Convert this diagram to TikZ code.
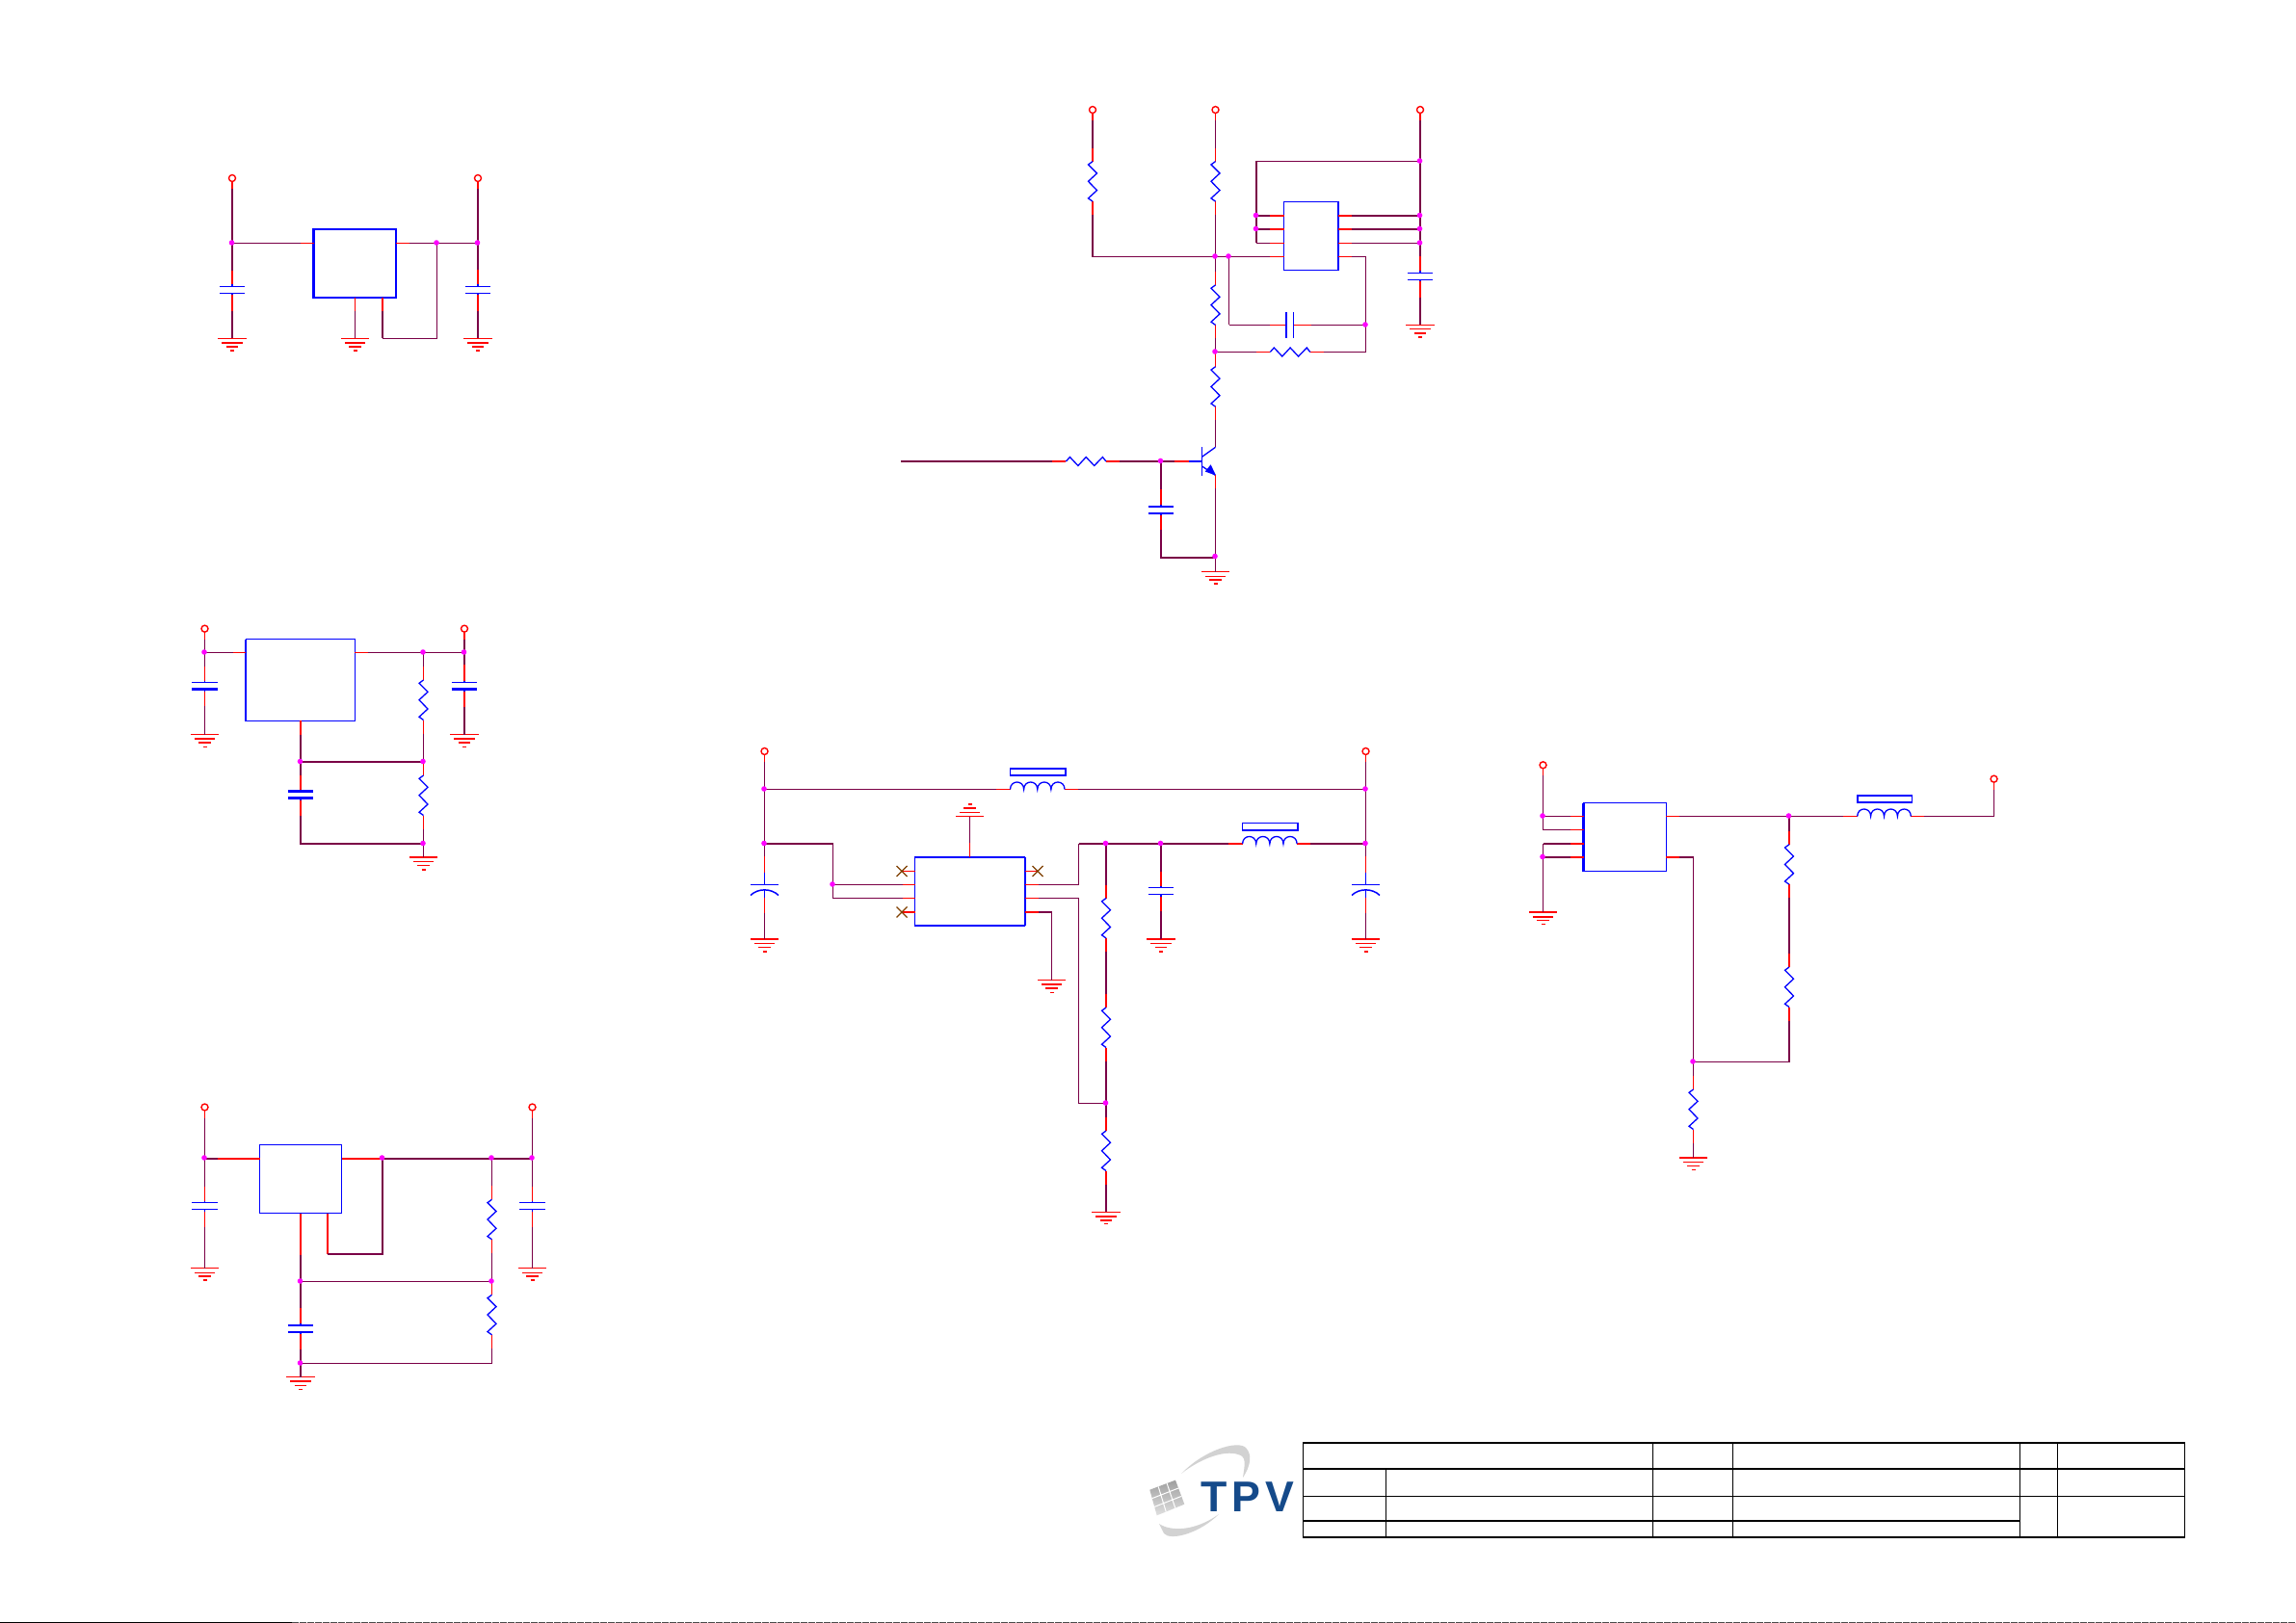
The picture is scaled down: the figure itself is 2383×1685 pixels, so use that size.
\documentclass[tikz,border=0pt]{standalone}
\usepackage{fontspec}
\setmainfont{Liberation Sans}
\definecolor{wirec}{HTML}{7A0046}
\definecolor{pinc}{HTML}{FF0000}
\definecolor{compc}{HTML}{0000FF}
\definecolor{jc}{HTML}{FF00FF}
\definecolor{ncc}{HTML}{804000}
\definecolor{logoc}{HTML}{154A8A}
\pgfdeclarelayer{jl}
\pgfsetlayers{main,jl}
\tikzset{
 thn/.style={line width=1pt},
 thk/.style={line width=2pt},
 wire/.style={wirec,line cap=butt,line join=miter},
 pinw/.style={pinc,line cap=butt},
 compw/.style={compc,line width=1.3pt,line join=miter},
 jn/.style={circle,fill=jc,draw=none,minimum size=5.6pt,inner sep=0pt},
 tmn/.style={circle,draw=pinc,line width=1.4pt,minimum size=7pt,inner sep=0pt,fill=white},
 icb/.style={draw=compc,rectangle,inner sep=0pt,outer sep=0pt},
 tb/.style={black,line cap=rect},
}
\newcommand\Wjunc[3]{\coordinate (#1) at (#2,#3);
 \begin{pgfonlayer}{jl}\node[jn,xshift=-.5pt,yshift=.5pt] (#1-dot) at (#1) {};\end{pgfonlayer}}
\newcommand\Wterm[4][thn]{\node[tmn] (#2) at (#3,#4) {};
 \draw[pinw,#1] (#3,#4+3.6) -- (#3,#4+11);
 \coordinate (#2-b) at (#3,#4+11);}
\newcommand\Wpin[6]{\coordinate (#1) at (#2,#3); \draw[pinw,#6] (#2,#3) -- (#4,#5);}
\newcommand\Wres[4]{%
 \draw[pinw,#4] (#2,#3-14) -- (#2,#3);
 \draw[pinw,#4] (#2,#3+41.5) -- (#2,#3+55.5);
 \draw[compw] (#2,#3) -- ++(-4.5,3.3) -- ++(9,9) -- ++(-9,8.4) -- ++(9,9.3) -- ++(-9,8.3) -- ++(4.5,3.2);
 \coordinate (#1-a) at (#2,#3-14); \coordinate (#1-b) at (#2,#3+55.5);}
\newcommand\Whres[4]{%
 \draw[pinw,#4] (#2-14,#3) -- (#2,#3);
 \draw[pinw,#4] (#2+41.5,#3) -- (#2+55.5,#3);
 \draw[compw] (#2,#3) -- ++(4,-4.5) -- ++(8.5,9) -- ++(8.3,-9) -- ++(8.5,9) -- ++(8.7,-9) -- ++(3.5,4.5);
 \coordinate (#1-a) at (#2-14,#3); \coordinate (#1-b) at (#2+55.5,#3);}
\newcommand\Wcap[8]{%
 \draw[pinw,#6] (#2,#3) -- (#2,#4-2);
 \draw[pinw,#6] (#2,#4+9) -- (#2,#5);
 \draw[compc,line width=1.5pt] (#2,#4-2) -- (#2,#4);
 \draw[compc,line width=1.5pt] (#2,#4+7) -- (#2,#4+9);
 \draw[compc,line width=#7pt] (#2-13.3,#4) -- (#2+13.3,#4);
 \draw[compc,line width=#8pt] (#2-13.3,#4+7) -- (#2+13.3,#4+7);
 \coordinate (#1-a) at (#2,#3); \coordinate (#1-b) at (#2,#5);}
\newcommand\Wcapc[5]{%
 \draw[pinw,thn] (#2,#3) -- (#2,#4-13);
 \draw[compc,line width=1pt] (#2,#4-13) -- (#2,#4);
 \draw[compc,line width=1pt] (#2-14.5,#4) -- (#2+14.5,#4);
 \draw[compc,line width=1.5pt] (#2-14.5,#4+11) .. controls (#2-7,#4+3.5) and (#2+7,#4+3.5) .. (#2+14.5,#4+11);
 \draw[compc,line width=1pt] (#2,#4+5) -- (#2,#4+13);
 \draw[pinw,thn] (#2,#4+13) -- (#2,#5);
 \coordinate (#1-a) at (#2,#3); \coordinate (#1-b) at (#2,#5);}
\newcommand\Wgnd[8]{\coordinate (#1) at (#2,#3);
 \draw[pinc,line width=#5pt] (#2-14.7,#3) -- (#2+14.7,#3);
 \draw[pinc,line width=#6pt] (#2-10.7,#3+#4*4.5) -- (#2+10.7,#3+#4*4.5);
 \draw[pinc,line width=#7pt] (#2-6.3,#3+#4*8.5) -- (#2+6.3,#3+#4*8.5);
 \draw[pinc,line width=#8pt] (#2-2,#3+#4*12.5) -- (#2+2,#3+#4*12.5);}
\newcommand\Wind[5]{%
 \draw[pinw,#5] (#2-15,#3) -- (#2,#3);
 \draw[pinw,#5] (#2+#4,#3) -- (#2+#4+14,#3);
 \draw[compc,line width=1.3pt] (#2,#3)
   .. controls (#2,#3-10) and (#2+#4*0.25,#3-10) .. (#2+#4*0.25,#3)
   .. controls (#2+#4*0.25,#3-10) and (#2+#4*0.5,#3-10) .. (#2+#4*0.5,#3)
   .. controls (#2+#4*0.5,#3-10) and (#2+#4*0.75,#3-10) .. (#2+#4*0.75,#3)
   .. controls (#2+#4*0.75,#3-10) and (#2+#4,#3-10) .. (#2+#4,#3);
 \draw[compc,line width=1.6pt] (#2,#3-21.6) rectangle (#2+#4+1,#3-14.3);
 \coordinate (#1-a) at (#2-15,#3); \coordinate (#1-b) at (#2+#4+14,#3);}
\newcommand\Wic[6]{\node[icb,line width=#6pt,minimum width=#4pt-#2pt,minimum height=#5pt-#3pt,anchor=north west] (#1) at (#2,#3) {};}
\newcommand\Wnc[3]{\node[inner sep=0pt,minimum size=0pt] (#1) at (#2,#3) {};
 \draw[ncc,line width=1.2pt] (#2-5.5,#3-5.5) -- (#2+5.5,#3+5.5) (#2-5.5,#3+5.5) -- (#2+5.5,#3-5.5);}

\begin{document}
\begin{tikzpicture}[x=1pt,y=-1pt]
\useasboundingbox (0,0) rectangle (2383,1685);
\fill[white] (0,0) rectangle (2383,1685);

%%%%%%%%%% circuit 1
\Wterm[thk]{aT}{241}{185}
\Wterm[thk]{aU}{496}{185}
\Wjunc{aJ}{241}{252.5}
\Wjunc{aK}{453.5}{252.5}
\Wjunc{aL}{496}{252.5}
\Wic{aIC}{325.5}{238}{411}{309}{2.4}
\Wcap{aC}{241}{281}{297.5}{322.7}{thk}{1}{1}
\Wcap{aD}{496}{280}{297.5}{322.7}{thk}{1}{1}
\Wgnd{aG}{241}{351.5}{1}{1}{2}{2}{2}
\Wgnd{aH}{368.5}{351.5}{1}{1}{2}{2}{2}
\Wgnd{aI}{496}{351.5}{1}{1}{2}{2}{2}
\Wpin{aP}{312.3}{252.5}{325.7}{252.5}{thn}
\Wpin{aQ}{425}{252.5}{411}{252.5}{thn}
\Wpin{aR}{368.5}{322.7}{368.5}{309}{thn}
\Wpin{aS}{397}{322.7}{397}{309}{thk}
\coordinate (aM) at (397,351.5);
\coordinate (aN) at (453.5,351.5);
\draw[wire,thk] (aT-b) -- (aJ) -- (aC-a);
\draw[wire,thk] (aC-b) -- (aG);
\draw[wire,thk] (aU-b) -- (aL) -- (aD-a);
\draw[wire,thk] (aD-b) -- (aI);
\draw[wire,thn] (aJ) -- (aP);
\draw[wire,thn] (aQ) -- (aK) -- (aL);
\draw[wire,thn] (aR) -- (aH);
\draw[wire,thk] (aS) -- (aM);
\draw[wire,thn] (aM) -- (aN) -- (aK);

%%%%%%%%%% circuit 2 (transistor)
\Wterm[thk]{bT}{1134}{114}
\Wterm{bU}{1261.5}{114}
\Wterm[thk]{bV}{1474}{114}
\Wres{bR}{1134}{167.6}{thk}
\Wres{bS}{1261.5}{167.6}{thn}
\Wres{bX}{1261.5}{295.9}{thn}
\Wres{bY}{1261.5}{380.7}{thn}
\Wjunc{bJ}{1261.5}{266.5}
\Wjunc{bK}{1275.5}{266.5}
\Wjunc{bL}{1261.5}{365.5}
\Wjunc{bM}{1474}{167.5}
\Wjunc{bN}{1304}{224}
\Wjunc{bO}{1304}{238}
\Wjunc{bP}{1474}{224}
\Wjunc{bQ}{1474}{238}
\Wjunc{bW}{1474}{252.5}
\Wjunc{bZ}{1417.5}{337.5}
\coordinate (bA) at (1134,266.5);
\coordinate (bB) at (1304,167.5);
\coordinate (bC) at (1304,252.5);
\coordinate (bD) at (1417.5,266.5);
\coordinate (bE) at (1417.5,365.5);
\coordinate (bF) at (1275.5,337.5);
\Wic{bIC}{1332.5}{209.5}{1389}{280.5}{1}
\draw[compc,line width=2.2pt] (bIC.north east) -- (bIC.south east);
\foreach \n/\yy/\ww in {a/224/thk,b/238/thk,c/252.5/thn,d/266.5/thn}{
 \Wpin{bPL\n}{1318.3}{\yy}{1332.6}{\yy}{\ww}
 \Wpin{bPR\n}{1402.6}{\yy}{1389.1}{\yy}{\ww}
}
\Wcap{bCa}{1474}{266.5}{283.5}{308.6}{thk}{1}{1}
\Wgnd{bG}{1474}{337.5}{1}{1}{1}{2}{2}
\draw[wire,thk] (bT-b) -- (bR-a);
\draw[wire,thk] (bR-b) -- (bA);
\draw[wire,thn] (bA) -- (bJ);
\draw[wire,thk] (bA) ++(0,.5) -- ++(0,-1.5);
\draw[wire,thn] (bU-b) -- (bS-a);
\draw[wire,thn] (bS-b) -- (bJ) -- (bX-a);
\draw[wire,thn] (bJ) -- (bK) -- (bPLd);
\draw[wire,thn] (bK) -- (bF);
\draw[wire,thk] (bV-b) -- (bM) -- (bP) -- (bQ) -- (bW) -- (bCa-a);
\draw[wire,thk] (bCa-b) -- (bG);
\draw[wire,thn] (bB) -- (bM);
\draw[wire,thk] (bB) -- (bN) -- (bO) -- (bC);
\draw[wire,thk] (bN) -- (bPLa);
\draw[wire,thk] (bO) -- (bPLb);
\draw[wire,thn] (bC) -- (bPLc);
\draw[wire,thk] (bPRa) -- (bP);
\draw[wire,thk] (bPRb) -- (bQ);
\draw[wire,thn] (bPRc) -- (bW);
\draw[wire,thn] (bPRd) -- (bD) -- (bZ) -- (bE);
% feedback C and R
\draw[pinw,thn] (1318.3,337.5) -- (1335,337.5);
\draw[pinw,thn] (1342,337.5) -- (1360.7,337.5);
\draw[compc,line width=2pt] (1335,324.5) -- (1335,350.7);
\draw[compc,line width=1pt] (1342.5,324.5) -- (1342.5,350.7);
\coordinate (bCbL) at (1318.3,337.5);\coordinate (bCbR) at (1360.7,337.5);
\draw[wire,thn] (bF) -- (bCbL);
\draw[wire,thn] (bCbR) -- (bZ);
\Whres{bH}{1318.3}{365.5}{thn}
\draw[wire,thn] (bX-b) -- (bL) -- (bY-a);
\draw[wire,thn] (bL) -- (bH-a);
\draw[wire,thn] (bH-b) -- (bE);
% transistor
\coordinate (bCol) at (1261.5,464.3);
\coordinate (bEmi) at (1261.5,493.4);
\coordinate (bEmiP) at (1261.5,507.2);
\coordinate (bBase) at (1247.5,479);
\Wjunc{bBJ}{1205}{479}
\Wjunc{bEJ}{1261.5}{578}
\draw[wire,thn] (bY-b) -- (bCol);
\draw[compc,line width=1.2pt] (1247.5,464) -- (1247.5,494);
\draw[compc,line width=1.3pt] (1247.5,474.3) -- (bCol);
\draw[compc,line width=1.3pt] (1247.5,484) -- (bEmi);
\fill[compc] (1262,493.6) -- (1250.8,489.6) -- (1256.6,482.3) -- cycle;
\draw[pinw,thn] (bEmi) -- (bEmiP);
\draw[compc,thk] (1234.1,479) -- (bBase);
\Wpin{bPb}{1218.7}{479}{1234.1}{479}{thk}
\Whres{bI}{1106.4}{479}{thk}
\coordinate (bIn) at (935.2,479);
\draw[wire,thk] (bIn) -- (bI-a);
\draw[wire,thk] (bI-b) -- (bBJ) -- (bPb);
\Wcap{bCc}{1205}{507.9}{526}{550}{thk}{2.4}{2.4}
\coordinate (bCd) at (1205,579);
\coordinate (bCe) at (1261.5,579);
\draw[wire,thk] (bBJ) -- (bCc-a);
\draw[wire,thk] (bCc-b) -- (bCd) -- (bCe);
\Wgnd{bGb}{1261.5}{593.5}{1}{1}{1}{2}{2}
\draw[wire,thn] (bEmiP) -- (bEJ) -- (bGb);

%%%%%%%%%% circuit 3 (centre)
\Wterm{cT}{793.5}{780}
\Wterm{cU}{1417.5}{780}
\Wjunc{cJ}{793.5}{819.5}
\Wjunc{cK}{793.5}{876}
\Wjunc{cL}{1417.5}{819.5}
\Wjunc{cM}{1417.5}{876}
\Wjunc{cN}{864.5}{918.5}
\Wjunc{cO}{1148}{876}
\Wjunc{cP}{1205}{876}
\Wjunc{cQ}{1148}{1145.5}
\coordinate (cA) at (864.5,876);
\coordinate (cB) at (864.5,932.5);
\coordinate (cC) at (1119.5,876);
\coordinate (cD) at (1119.5,918.5);
\coordinate (cE) at (1119.5,932.5);
\coordinate (cF) at (1119.5,1145.5);
\coordinate (cH) at (1091.5,947);
\Wind{cW}{1048.5}{819.5}{56.5}{thn}
\Wind{cX}{1289.6}{876}{56.5}{thk}
\Wic{cIC}{949.5}{890}{1063.5}{961}{1.4}
\draw[compc,line width=2.4pt] (cIC.north west) -- (cIC.north east);
\draw[compc,line width=2.4pt] (cIC.south west) -- (cIC.south east);
\draw[compc,line width=2pt] (cIC.north east) -- (cIC.south east);
\Wpin{cPa}{936.5}{918.5}{949.5}{918.5}{thn}
\Wpin{cPb}{936.5}{932.5}{949.5}{932.5}{thn}
\Wpin{cPc}{936}{904.5}{949.5}{904.5}{thn}
\Wpin{cPd}{936}{947}{949.5}{947}{thk}
\Wpin{cPe}{1077}{904.5}{1063.5}{904.5}{thn}
\Wpin{cPf}{1077.5}{918.5}{1063.5}{918.5}{thn}
\Wpin{cPg}{1077.5}{932.5}{1063.5}{932.5}{thn}
\Wpin{cPh}{1077.5}{947}{1063.5}{947}{thk}
\Wpin{cPi}{1006.5}{875}{1006.5}{890}{thn}
\Wnc{cNa}{936}{904.5}
\Wnc{cNb}{936}{947}
\Wnc{cNc}{1077}{904.5}
\Wgnd{cGa}{1006.5}{847.5}{-1}{1}{1}{2}{2}
\Wgnd{cGb}{1091.5}{1017.5}{1}{1}{2}{2}{1}
\Wcapc{cCa}{793.5}{889.2}{918.5}{948}
\Wcapc{cCb}{1417.5}{889.2}{918.5}{948}
\Wcap{cCc}{1205}{905}{921.5}{945.5}{thk}{1}{1}
\Wgnd{cGc}{793.5}{975}{1}{2.2}{1}{1}{2}
\Wgnd{cGd}{1205}{975}{1}{2.2}{1}{1}{2}
\Wgnd{cGe}{1417.5}{975}{1}{2.2}{1}{1}{2}
\Wres{cRa}{1148}{932.5}{thk}
\Wres{cRb}{1148}{1046}{thk}
\Wres{cRc}{1148}{1174}{thk}
\Wgnd{cGf}{1148}{1258}{1}{1}{2}{2}{1}
\draw[wire,thn] (cT-b) -- (cJ) -- (cK) -- (cCa-a);
\draw[wire,thn] (cCa-b) -- (cGc);
\draw[wire,thn] (cU-b) -- (cL) -- (cM) -- (cCb-a);
\draw[wire,thn] (cCb-b) -- (cGe);
\draw[wire,thn] (cJ) -- (cW-a);
\draw[wire,thn] (cW-b) -- (cL);
\draw[wire,thk] (cK) -- (cA);
\draw[wire,thn] (cA) -- (cN) -- (cB) -- (cPb);
\draw[wire,thn] (cN) -- (cPa);
\draw[wire,thn] (cPi) -- (cGa);
\draw[wire,thn] (cPf) -- (cD) -- (cC);
\draw[wire,thk] (cC) -- (cO) -- (cP) -- (cX-a);
\draw[wire,thk] (cX-b) -- (cM);
\draw[wire,thn] (cPg) -- (cE) -- (cF) -- (cQ);
\draw[wire,thk] (cPh) -- (cH);
\draw[wire,thn] (cH) -- (cGb);
\draw[wire,thk] (cO) -- (cRa-a);
\draw[wire,thk] (cRa-b) -- (cRb-a);
\draw[wire,thk] (cRb-b) -- (cQ) -- (cRc-a);
\draw[wire,thk] (cRc-b) -- (cGf);
\draw[wire,thk] (cP) -- (cCc-a);
\draw[wire,thk] (cCc-b) -- (cGd);

%%%%%%%%%% circuit 4
\Wterm{dT}{212.5}{652.7}
\Wterm[thk]{dU}{482}{652.7}
\Wjunc{dJ}{212.5}{677.5}
\Wjunc{dK}{439.5}{677.5}
\Wjunc{dL}{482}{677.5}
\Wjunc{dM}{312}{791}
\Wjunc{dN}{439.5}{791}
\Wjunc{dO}{439.5}{876}
\coordinate (dA) at (312,876);
\Wic{dIC}{255}{663.5}{368.5}{748.5}{1}
\draw[compc,line width=2.4pt] (dIC.north west) -- (dIC.south west);
\Wpin{dPa}{241.7}{677.5}{255}{677.5}{thn}
\Wpin{dPb}{381.7}{677.5}{368.3}{677.5}{thn}
\Wpin{dPc}{312}{762.7}{312}{748.3}{thk}
\Wcap{dCa}{212.5}{691.7}{708.5}{733.3}{thn}{1}{2.4}
\Wcap{dCb}{482}{690}{708.5}{734.3}{thk}{1}{2.4}
\Wcap{dCc}{312}{805}{821.5}{846.7}{thk}{2.4}{2.4}
\Wgnd{dGa}{212.5}{762.5}{1}{1}{2.2}{2}{1}
\Wgnd{dGb}{482}{762.5}{1}{1}{2.2}{2}{1}
\Wgnd{dGc}{439.5}{890}{1}{2.2}{1}{1}{2}
\Wres{dRa}{439.5}{706}{thn}
\Wres{dRb}{439.5}{805}{thn}
\draw[wire,thn] (dT-b) -- (dJ) -- (dCa-a);
\draw[wire,thn] (dCa-b) -- (dGa);
\draw[wire,thn] (dJ) -- (dPa);
\draw[wire,thn] (dPb) -- (dK) -- (dL);
\draw[wire,thk] (dU-b) -- (dL) -- (dCb-a);
\draw[wire,thk] (dCb-b) -- (dGb);
\draw[wire,thn] (dK) -- (dRa-a);
\draw[wire,thn] (dRa-b) -- (dN) -- (dRb-a);
\draw[wire,thn] (dRb-b) -- (dO) -- (dGc);
\draw[wire,thk] (dPc) -- (dM) -- (dCc-a);
\draw[wire,thk] (dM) -- (dN);
\draw[wire,thk] (dCc-b) -- (dA) -- (dO);

%%%%%%%%%% circuit 5
\Wterm{eT}{212.5}{1149.5}
\Wterm{eU}{552.5}{1149.5}
\Wjunc{eJ}{212.5}{1202.5}
\Wjunc{eK}{397}{1202.5}
\Wjunc{eL}{510.5}{1202.5}
\Wjunc{eM}{552.5}{1202.5}
\Wjunc{eN}{312}{1330.5}
\Wjunc{eO}{510.5}{1330.5}
\Wjunc{eP}{312}{1415.5}
\coordinate (eA) at (340,1302);
\coordinate (eB) at (397,1302);
\coordinate (eC) at (510.5,1415.5);
\Wic{eIC}{269.5}{1188.5}{354.5}{1259.5}{1}
\Wpin{ePa}{226}{1202.5}{269.5}{1202.5}{thk}
\Wpin{ePb}{396}{1202.5}{354.5}{1202.5}{thk}
\Wpin{ePc}{340}{1302}{340}{1259.5}{thk}
\Wpin{ePd}{312}{1302.5}{312}{1259.5}{thk}
\Wcap{eCa}{212.5}{1231.7}{1248.5}{1274.3}{thn}{1}{1}
\Wcap{eCb}{552.5}{1231.7}{1248.5}{1274.3}{thn}{1}{1}
\Wcap{eCc}{312}{1357.7}{1376}{1401}{thk}{2.4}{2.4}
\Wgnd{eGa}{212.5}{1316.5}{1}{1}{1}{2.2}{2}
\Wgnd{eGb}{552.5}{1316.5}{1}{1}{1}{2.2}{2}
\Wgnd{eGc}{312}{1429.5}{1}{1}{2.2}{1}{1}
\Wres{eRa}{510.5}{1245.3}{thn}
\Wres{eRb}{510.5}{1344.3}{thn}
\draw[wire,thn] (eT-b) -- (eJ) -- (eCa-a);
\draw[wire,thn] (eCa-b) -- (eGa);
\draw[wire,thn] (eU-b) -- (eM) -- (eCb-a);
\draw[wire,thn] (eCb-b) -- (eGb);
\draw[wire,thk] (eJ) -- (ePa);
\draw[wire,thk] (ePb) -- (eK) -- (eL) -- (eM);
\draw[wire,thk] (eA) -- (eB) -- (eK);
\draw[wire,thk] (ePd) -- (eN) -- (eCc-a);
\draw[wire,thk] (eCc-b) -- (eP) -- (eGc);
\draw[wire,thn] (eN) -- (eO);
\draw[wire,thn] (eP) -- (eC) -- (eRb-b);
\draw[wire,thn] (eL) -- (eRa-a);
\draw[wire,thn] (eRa-b) -- (eO) -- (eRb-a);

%%%%%%%%%% circuit 6
\Wterm{fT}{1601.5}{794.3}
\Wterm{fU}{2069.5}{808.7}
\Wjunc{fJ}{1601.5}{847.5}
\Wjunc{fK}{1601.5}{890}
\Wjunc{fL}{1857}{847.5}
\Wjunc{fM}{1757.5}{1102.5}
\coordinate (fA) at (1601.5,861.5);
\coordinate (fB) at (1601.5,876);
\coordinate (fC) at (1757.5,890);
\coordinate (fD) at (1857,1102.5);
\coordinate (fE) at (2069.5,847.5);
\Wic{fIC}{1643.5}{833.5}{1729.5}{904.5}{1}
\draw[compc,line width=2.4pt] (fIC.north west) -- (fIC.south west);
\Wpin{fPa}{1630}{847.5}{1643.7}{847.5}{thn}
\Wpin{fPb}{1630}{861.5}{1643.7}{861.5}{thn}
\Wpin{fPc}{1630}{876}{1643.7}{876}{thk}
\Wpin{fPd}{1630}{890}{1643.7}{890}{thk}
\Wpin{fPe}{1743.3}{847.5}{1729.3}{847.5}{thn}
\Wpin{fPf}{1743.3}{890}{1729.3}{890}{thk}
\Wind{fW}{1927.7}{847.5}{55.6}{thn}
\Wres{fRa}{1857}{876.7}{thk}
\Wres{fRb}{1857}{1004}{thk}
\Wres{fRc}{1757.5}{1131}{thn}
\Wgnd{fGa}{1601.5}{947}{1}{2.2}{2}{1}{1}
\Wgnd{fGb}{1757.5}{1202}{1}{2.2}{1}{1}{1}
\draw[wire,thn] (fT-b) -- (fJ) -- (fA) -- (fPb);
\draw[wire,thn] (fJ) -- (fPa);
\draw[wire,thk] (fB) -- (fPc);
\draw[wire,thk] (fK) -- (fPd);
\draw[wire,thn] (fB) -- (fK) -- (fGa);
\draw[wire,thn] (fPe) -- (fL) -- (fW-a);
\draw[wire,thn] (fW-b) -- (fE) -- (fU-b);
\draw[wire,thk] (fPf) -- (fC);
\draw[wire,thn] (fC) -- (fM) -- (fRc-a);
\draw[wire,thn] (fRc-b) -- (fGb);
\draw[wire,thk] (fL) -- (fRa-a);
\draw[wire,thk] (fRa-b) -- (fRb-a);
\draw[wire,thk] (fRb-b) -- (fD);
\draw[wire,thn] (fD) -- (fM);

%%%%%%%%%% title block
\draw[tb,line width=1.8pt] (1352.5,1498) -- (2267.5,1498);
\draw[tb,line width=1.8pt] (1352.5,1596) -- (2267.5,1596);
\draw[tb,line width=1.8pt] (1352.5,1525) -- (2267.5,1525);
\draw[tb,line width=1pt] (1352.5,1553.5) -- (2267.5,1553.5);
\draw[tb,line width=1.8pt] (1352.5,1579) -- (2096.5,1579);
\draw[tb,line width=1.4pt] (1352.5,1498) -- (1352.5,1596);
\draw[tb,line width=1.4pt] (2267.5,1498) -- (2267.5,1596);
\draw[tb,line width=1pt] (1438.5,1525) -- (1438.5,1596);
\draw[tb,line width=1pt] (1715.5,1498) -- (1715.5,1596);
\draw[tb,line width=1pt] (1798.5,1498) -- (1798.5,1596);
\draw[tb,line width=1pt] (2096.5,1498) -- (2096.5,1596);
\draw[tb,line width=1pt] (2135.5,1498) -- (2135.5,1596);

%%%%%%%%%% logo
\fill[gray!35] (1226,1530) .. controls (1250,1505) and (1285,1495) .. (1293,1503)
  .. controls (1300,1510) and (1298,1522) .. (1290,1534)
  .. controls (1292,1520) and (1294,1512) .. (1285,1510)
  .. controls (1270,1505) and (1245,1515) .. (1226,1530) -- cycle;
\fill[gray!35] (1203,1582) .. controls (1215,1590) and (1240,1590) .. (1265,1572)
  .. controls (1245,1592) and (1215,1600) .. (1208,1592) -- cycle;
\shade[top color=gray!75,bottom color=gray!25]
  (1193.3,1546.7) -- (1220,1536.7) -- (1229.3,1561.7) -- (1200.7,1573.3) -- cycle;
\draw[white,line width=1pt]
  (1202.2,1543.4) -- (1210.2,1569.4)  (1211.1,1540) -- (1219.8,1565.6)
  (1195.8,1555.6) -- (1223.1,1545)  (1198.2,1564.4) -- (1226.2,1553.4);
\node[logoc,inner sep=0pt,anchor=west] (logotext) at (1246,1554)
  {\fontsize{44.7pt}{44.7pt}\selectfont\bfseries\addfontfeature{LetterSpace=11}TPV};

%%%%%%%%%% page bottom edge
\draw[black,line width=1pt] (0,1684.5) -- (303,1684.5);
\draw[black!70,line width=1pt,dash pattern=on 7pt off 1pt] (303,1684.5) -- (2383,1684.5);
\end{tikzpicture}
\end{document}
